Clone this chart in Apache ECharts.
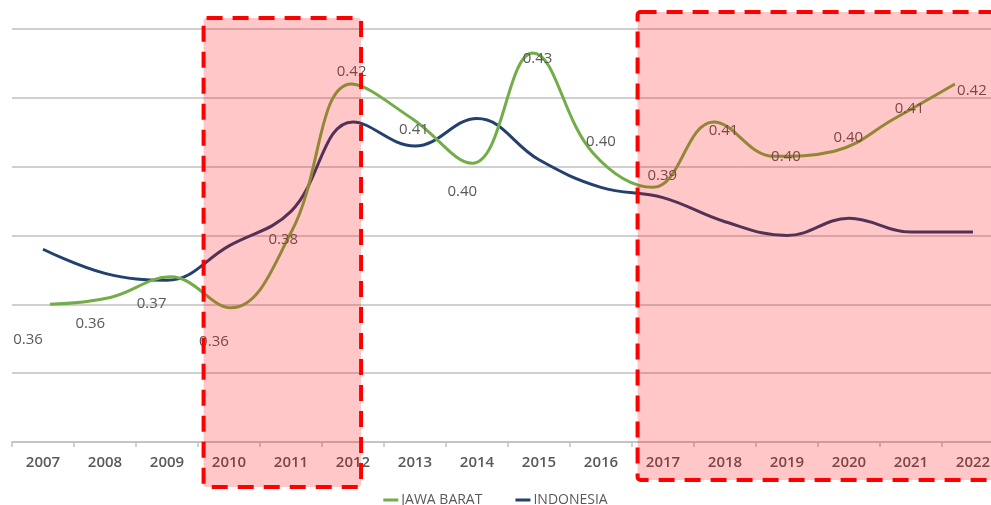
<!DOCTYPE html>
<html>
<head>
<meta charset="utf-8">
<script src="https://cdn.jsdelivr.net/npm/echarts@6/dist/echarts.min.js"></script>
<style>
  html, body { margin: 0; padding: 0; background: #ffffff; }
  #chart { width: 991px; height: 505px; }
</style>
</head>
<body>
<div id="chart"></div>
<script>
// Gini ratio, Jawa Barat vs Indonesia
const years = ['2007', '2008', '2009', '2010', '2011', '2012', '2013', '2014',
               '2015', '2016', '2017', '2018', '2019', '2020', '2021', '2022'];
const jawaBarat = [0.360, 0.362, 0.368, 0.359, 0.381, 0.424, 0.414, 0.401,
                   0.433, 0.404, 0.394, 0.413, 0.403, 0.4045, 0.414, 0.424];
const indonesia = [0.376, 0.369, 0.367, 0.377, 0.387, 0.413, 0.406, 0.414,
                   0.402, 0.394, 0.391, 0.384, 0.380, 0.385, 0.381, 0.381];
// highlighted periods (first and last year of each box)
const highlightSpans = [['2010', '2012'], ['2017', '2022']];

// label placement for the Jawa Barat values, [dx, dy] from each point
const jbLabelOffsets = [[-22, 35], [-20, 26], [-19, 27], [-17, 34], [-8, 8], [0, -12],
                        [2, 11], [-10, 29], [5, 6], [8, -11], [9, -12], [10, 9],
                        [12, 0], [14, -13], [15, -10], [17, 7]];

const GREEN = '#72ad47';
const NAVY = '#24406f';
const TEXT = '#595959';
const GRID = '#c0c0c0';
const FONT = '"Open Sans", "Liberation Sans", sans-serif';

const chart = echarts.init(document.getElementById('chart'), null, { renderer: 'canvas' });

const option = {
  animation: false,
  backgroundColor: '#ffffff',
  textStyle: { fontFamily: FONT },
  grid: [
    { left: 12, width: 992, top: 29, bottom: 63, containLabel: false, outerBoundsMode: 'none' },
    { left: 19.8, width: 965.3, top: 29, bottom: 63, containLabel: false, outerBoundsMode: 'none' }
  ],
  xAxis: [
    {
      type: 'category', gridIndex: 0, data: years, boundaryGap: true,
      axisLine: { show: true, lineStyle: { color: GRID, width: 1.5 } },
      axisTick: { show: true, length: 5, lineStyle: { color: GRID, width: 1.5 } },
      axisLabel: { color: TEXT, fontSize: 15, fontWeight: 600, margin: 13, fontFamily: FONT }
    },
    {
      type: 'category', gridIndex: 1, data: years, boundaryGap: true, show: false
    }
  ],
  yAxis: [
    {
      type: 'value', gridIndex: 0, min: 0.32, max: 0.44, interval: 0.02,
      axisLine: { show: false }, axisTick: { show: false }, axisLabel: { show: false },
      splitLine: { show: true, lineStyle: { color: GRID, width: 1.5 } }
    },
    {
      type: 'value', gridIndex: 1, min: 0.32, max: 0.44, interval: 0.02, show: false,
      splitLine: { show: false }
    }
  ],
  legend: {
    top: 488, left: 'center',
    itemWidth: 15, itemHeight: 3, itemGap: 33,
    icon: 'rect',
    textStyle: { color: TEXT, fontSize: 14, fontFamily: FONT, padding: [0, 0, 0, -2] },
    data: ['JAWA BARAT', 'INDONESIA']
  },
  series: [
    {
      name: 'INDONESIA', type: 'line', xAxisIndex: 0, yAxisIndex: 0,
      data: indonesia, smooth: 0.4, symbol: 'none',
      lineStyle: { color: NAVY, width: 3 }, itemStyle: { color: NAVY }, z: 3
    },
    {
      name: 'JAWA BARAT', type: 'line', xAxisIndex: 1, yAxisIndex: 1,
      smooth: 0.4, symbol: 'circle', symbolSize: 0, showSymbol: true,
      lineStyle: { color: GREEN, width: 3 }, itemStyle: { color: GREEN }, z: 4,
      data: jawaBarat.map((v, i) => ({
        value: v,
        label: {
          show: true, position: 'inside', offset: jbLabelOffsets[i],
          formatter: (p) => p.value.toFixed(2),
          color: TEXT, fontSize: 15, fontFamily: FONT
        }
      }))
    }
  ]
};

chart.setOption(option);

// dashed highlight boxes laid over the selected year ranges
const catW = chart.convertToPixel({ xAxisIndex: 0 }, years[1]) - chart.convertToPixel({ xAxisIndex: 0 }, years[0]);
const boxVertical = [[18, 487], [12, 480]];
const boxes = highlightSpans.map((span, k) => {
  const x0 = chart.convertToPixel({ xAxisIndex: 0 }, span[0]) - 0.41 * catW;
  const lastIsEnd = span[1] === years[years.length - 1];
  const x1 = lastIsEnd ? 1010 : chart.convertToPixel({ xAxisIndex: 0 }, span[1]) + 0.13 * catW;
  const [y0, y1] = boxVertical[k];
  return {
    type: 'rect', z: 100,
    shape: { x: x0, y: y0, width: x1 - x0, height: y1 - y0, r: 3 },
    style: {
      fill: 'rgba(255, 0, 0, 0.22)',
      stroke: '#ff0000', lineWidth: 4, lineDash: [16, 10]
    },
    silent: true
  };
});
chart.setOption({ graphic: boxes });
</script>
</body>
</html>
